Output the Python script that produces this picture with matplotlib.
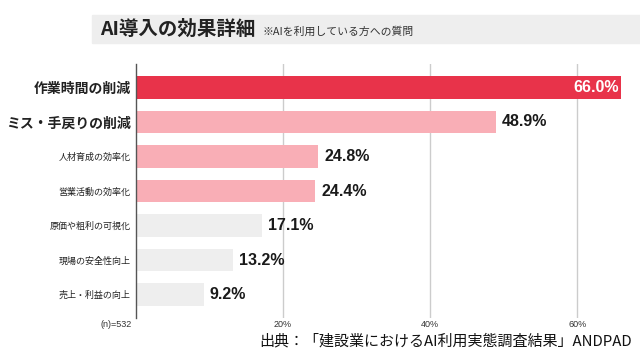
import matplotlib
matplotlib.use("Agg")
import matplotlib.pyplot as plt
from matplotlib.patches import Rectangle

plt.rcParams['font.family'] = ['Noto Sans CJK JP', 'DejaVu Sans']

# Data
categories = ['作業時間の削減', 'ミス・手戻りの削減', '人材育成の効率化', '営業活動の効率化',
              '原価や粗利の可視化', '現場の安全性向上', '売上・利益の向上']
values = [66.0, 48.9, 24.8, 24.4, 17.1, 13.2, 9.2]
bar_colors = ['#E8334A', '#F9AEB6', '#F9AEB6', '#F9AEB6', '#EEEEEE', '#EEEEEE', '#EEEEEE']
tick_values = [20, 40, 60]
tick_labels = ['20%', '40%', '60%']

fig = plt.figure(figsize=(6.4, 3.52), dpi=100)
ax = fig.add_axes([136 / 640, 1 - 318 / 352, 500 / 640, 254 / 352])

y = list(range(len(categories)))
ax.barh(y, values, height=0.64, color=bar_colors, zorder=2)
ax.set_xlim(0, 68)
ax.set_ylim(6.68, -0.68)

# grid
for t in tick_values:
    ax.axvline(t, color='#CCCCCC', linewidth=1, zorder=1)
for s in ['top', 'right', 'bottom']:
    ax.spines[s].set_visible(False)
ax.spines['left'].set_color('#555555')
ax.spines['left'].set_linewidth(1)
ax.set_xticks([])
ax.set_yticks(y)
ax.tick_params(axis='y', length=0, pad=4)
labels = ax.set_yticklabels(categories)
for i, lab in enumerate(labels):
    if i < 2:
        lab.set_fontsize(10)
        lab.set_fontweight('bold')
    else:
        lab.set_fontsize(6.5)
    lab.set_color('#222222')

# value labels
for i, v in enumerate(values):
    if i == 0:
        ax.text(v - 0.3, i, f'{v:.1f}%', ha='right', va='center', color='white',
                fontsize=11.5, fontweight='bold', family=['Liberation Sans', 'DejaVu Sans'], zorder=3)
    else:
        ax.text(v + 0.8, i, f'{v:.1f}%', ha='left', va='center', color='#1A1A1A',
                fontsize=11.5, fontweight='bold', family=['Liberation Sans', 'DejaVu Sans'], zorder=3)

# x tick labels below
for t, tl in zip(tick_values, tick_labels):
    ax.text(t, 6.68 + 0.2, tl, ha='center', va='center', fontsize=6.5, color='#333333',
            family=['Liberation Sans', 'DejaVu Sans'])
ax.text(-0.6, 6.68 + 0.2, '(n)=532', ha='right', va='center', fontsize=6.5, color='#333333',
        family=['Liberation Sans', 'DejaVu Sans'])

# title band
fig.patches.append(Rectangle((92 / 640, 1 - 43 / 352), 548 / 640, 28 / 352,
                             transform=fig.transFigure, color='#EEEEEE', zorder=0))
fig.text(100 / 640, 1 - 29 / 352, 'AI導入の効果詳細', fontsize=14, fontweight='bold',
         va='center', ha='left', color='#222222')
fig.text(262 / 640, 1 - 32 / 352, '※AIを利用している方への質問', fontsize=7.8,
         va='center', ha='left', color='#333333')

# source
fig.text(632 / 640, 1 - 341 / 352, '出典：「建設業におけるAI利用実態調査結果」ANDPAD',
         fontsize=10.8, ha='right', va='center', color='#111111')

fig.savefig('out.png', dpi=100)
